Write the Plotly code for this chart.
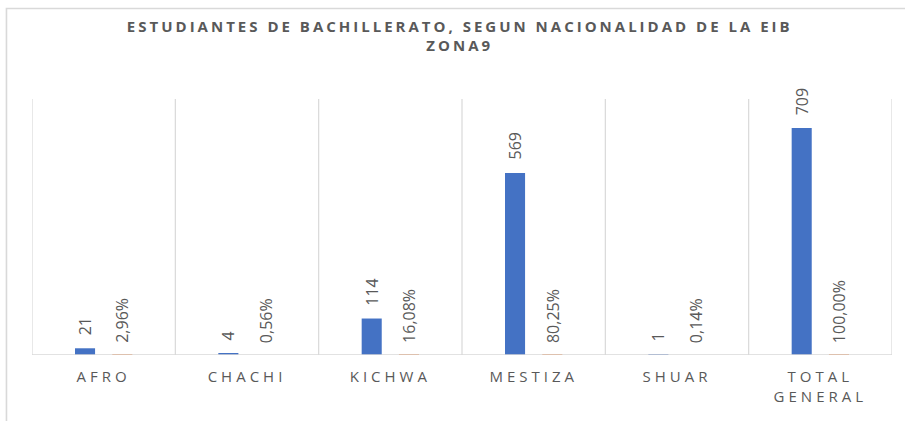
import plotly.graph_objects as go

categories = ["AFRO", "CHACHI", "KICHWA", "MESTIZA", "SHUAR", "TOTAL<br>GENERAL"]
counts = [21, 4, 114, 569, 1, 709]
shares = [0.0296, 0.0056, 0.1608, 0.8025, 0.0014, 1.0]
share_labels = ["2,96%", "0,56%", "16,08%", "80,25%", "0,14%", "100,00%"]
title_lines = ["ESTUDIANTES DE BACHILLERATO, SEGUN NACIONALIDAD DE LA EIB", "ZONA9"]

FONT = "Open Sans"
GRAY = "#595959"
LINE = "#D9D9D9"
BLUE_OFF, ORANGE_OFF, BW = -0.2, 0.06, 0.14

xs = list(range(len(categories)))
fig = go.Figure()
fig.add_trace(go.Bar(
    x=xs, y=counts, marker=dict(color="#4472C4", line=dict(width=0)),
    width=BW, offset=BLUE_OFF, name="Cantidad", cliponaxis=False,
))
fig.add_trace(go.Bar(
    x=xs, y=shares, marker=dict(color="#ED7D31", line=dict(width=0)),
    width=BW, offset=ORANGE_OFF, name="%", cliponaxis=False,
))

annotations = []
for i, (c, s) in enumerate(zip(counts, share_labels)):
    annotations.append(dict(x=i + BLUE_OFF + BW / 2, y=c, xref="x", yref="y", text=str(c),
                            showarrow=False, textangle=-90, yanchor="bottom", xanchor="center",
                            yshift=11, font=dict(family=FONT, size=16, color=GRAY)))
    annotations.append(dict(x=i + ORANGE_OFF + BW / 2, y=shares[i], xref="x", yref="y", text=s,
                            showarrow=False, textangle=-90, yanchor="bottom", xanchor="center",
                            yshift=10, font=dict(family=FONT, size=16, color=GRAY)))

shapes = []
for i in range(len(categories) + 1):
    shapes.append(dict(type="line", xref="x", yref="y", x0=i - 0.5, x1=i - 0.5, y0=0, y1=800,
                       line=dict(color=LINE, width=1.2), layer="below"))
# baseline drawn above the bars (hides the near-zero percentage bars as in the reference)
shapes.append(dict(type="line", xref="x", yref="y", x0=-0.5, x1=len(categories) - 0.5, y0=0, y1=0,
                   line=dict(color=LINE, width=1.6), layer="above"))
# outer chart border (top and left edges visible in the reference)
shapes.append(dict(type="rect", xref="paper", yref="paper", x0=-0.0297, x1=1.1, y0=-0.5, y1=1.3535,
                   line=dict(color=LINE, width=1.6), fillcolor="rgba(0,0,0,0)", layer="above"))

fig.update_layout(
    width=905, height=421,
    margin=dict(l=32, r=13, t=99, b=66),
    paper_bgcolor="white", plot_bgcolor="white",
    showlegend=False, barmode="group",
    title=dict(text="<b>" + "<br>".join(title_lines) + "</b>", x=0.508, xanchor="center",
               xref="container", yref="container", y=0.925, yanchor="top",
               font=dict(family=FONT, size=15, color=GRAY)),
    xaxis=dict(tickmode="array", tickvals=xs, ticktext=categories,
               range=[-0.5, len(categories) - 0.5], showgrid=False, zeroline=False,
               showline=False, ticks="", ticklabelstandoff=11,
               tickfont=dict(family=FONT, size=15, color=GRAY)),
    yaxis=dict(range=[0, 800], showgrid=False, zeroline=False, showticklabels=False,
               showline=False),
    shapes=shapes,
    annotations=annotations,
)

post = """
document.body.style.margin = '0';
var gd = document.getElementById('{plot_id}');
function spacing() {
  gd.querySelectorAll('.gtitle').forEach(function (e) { e.style.letterSpacing = '3px'; });
  gd.querySelectorAll('.xtick text').forEach(function (e) { e.style.letterSpacing = '4px'; });
}
spacing();
"""
fig.write_html("out.html", post_script=post, config={"displayModeBar": False})
